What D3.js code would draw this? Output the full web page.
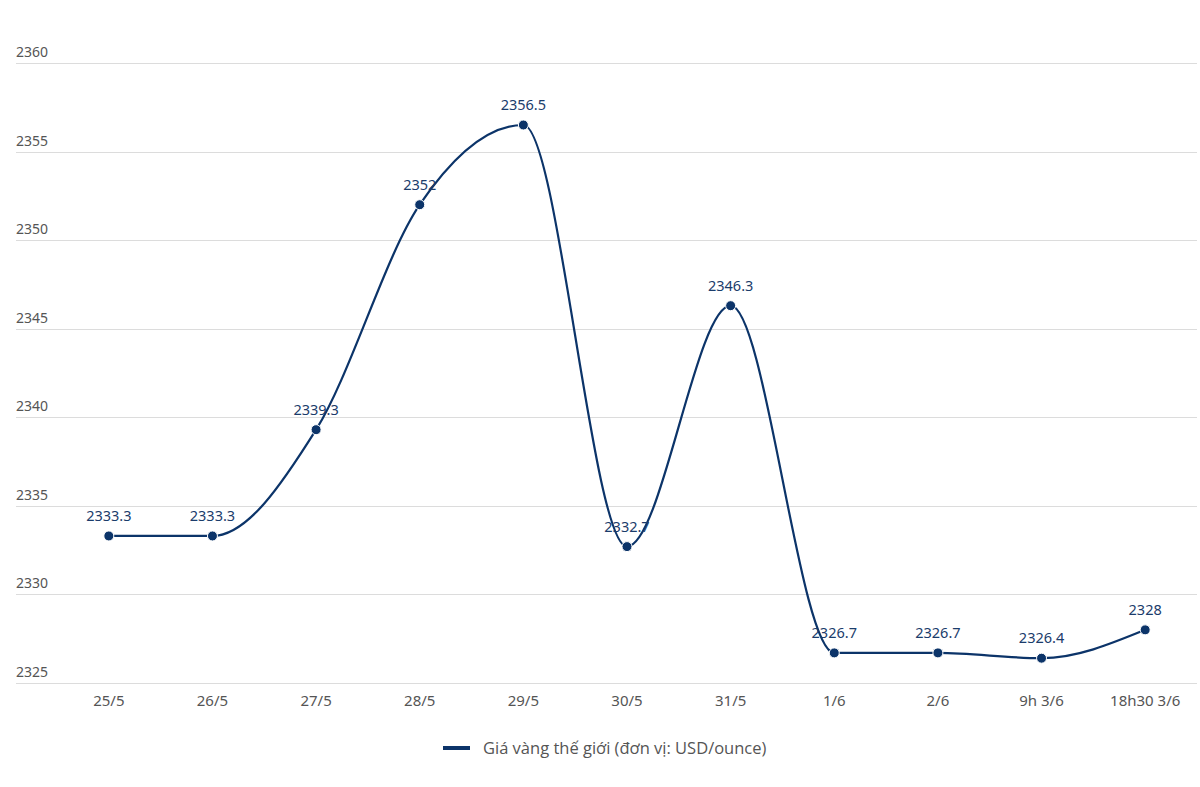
<!DOCTYPE html>
<html>
<head>
<meta charset="utf-8">
<script src="https://cdn.jsdelivr.net/npm/d3@7"></script>
<style>
  body { margin: 0; background: #fff; }
  svg text { font-family: "Noto Sans", "Open Sans", sans-serif; }
</style>
</head>
<body>
<div id="chart-area"></div>
<script>
var labels = ["25/5", "26/5", "27/5", "28/5", "29/5", "30/5", "31/5", "1/6", "2/6", "9h 3/6", "18h30 3/6"];
var prices = [2333.3, 2333.3, 2339.3, 2352, 2356.5, 2332.7, 2346.3, 2326.7, 2326.7, 2326.4, 2328];
var yTicks = [2325, 2330, 2335, 2340, 2345, 2350, 2355, 2360];
var seriesName = "Giá vàng thế giới (đơn vị: USD/ounce)";

var width = 1200, height = 787;
var lineColor = "#0c3469";

var svg = d3.select("#chart-area").append("svg")
    .attr("width", width)
    .attr("height", height);

var x = d3.scalePoint()
    .domain(labels)
    .range([57, 1197])
    .padding(0.5);

var y = d3.scaleLinear()
    .domain([2325, 2360])
    .range([683, 63]);

// grid lines + y labels
var grid = svg.append("g");
grid.selectAll("line").data(yTicks).enter()
    .append("line")
    .attr("x1", 16)
    .attr("x2", 1197)
    .attr("y1", function(d) { return Math.round(y(d)) + 0.5; })
    .attr("y2", function(d) { return Math.round(y(d)) + 0.5; })
    .attr("stroke", "#dcdcdc")
    .attr("stroke-width", 1);

grid.selectAll("text").data(yTicks).enter()
    .append("text")
    .attr("x", 16)
    .attr("y", function(d) { return y(d) - 6; })
    .attr("font-size", 14)
    .attr("fill", "#555")
    .text(function(d) { return d; });

// x labels
svg.append("g").selectAll("text").data(labels).enter()
    .append("text")
    .attr("x", function(d) { return x(d); })
    .attr("y", 706)
    .attr("text-anchor", "middle")
    .attr("font-size", 15)
    .attr("fill", "#555")
    .text(function(d) { return d; });

var points = labels.map(function(d, i) { return {label: d, value: prices[i]}; });

var line = d3.line()
    .x(function(d) { return x(d.label); })
    .y(function(d) { return y(d.value); })
    .curve(d3.curveMonotoneX);

svg.append("path")
    .datum(points)
    .attr("d", line)
    .attr("fill", "none")
    .attr("stroke", lineColor)
    .attr("stroke-width", 2.2);

svg.append("g").selectAll("circle").data(points).enter()
    .append("circle")
    .attr("cx", function(d) { return x(d.label); })
    .attr("cy", function(d) { return y(d.value); })
    .attr("r", 5)
    .attr("fill", lineColor)
    .attr("stroke", "#fff")
    .attr("stroke-width", 1);

svg.append("g").selectAll("text").data(points).enter()
    .append("text")
    .attr("x", function(d) { return x(d.label); })
    .attr("y", function(d) { return y(d.value) - 15; })
    .attr("text-anchor", "middle")
    .attr("font-size", 14.5)
    .attr("fill", "#1b3c6b")
    .text(function(d) { return d.value; });

// legend
var legend = svg.append("g");
legend.append("line")
    .attr("x1", 443).attr("x2", 470)
    .attr("y1", 748).attr("y2", 748)
    .attr("stroke", lineColor)
    .attr("stroke-width", 4);
legend.append("text")
    .attr("x", 483)
    .attr("y", 754)
    .attr("font-size", 16.5)
    .attr("fill", "#555")
    .style("font-family", "'Open Sans', sans-serif")
    .text(seriesName);
</script>
</body>
</html>
